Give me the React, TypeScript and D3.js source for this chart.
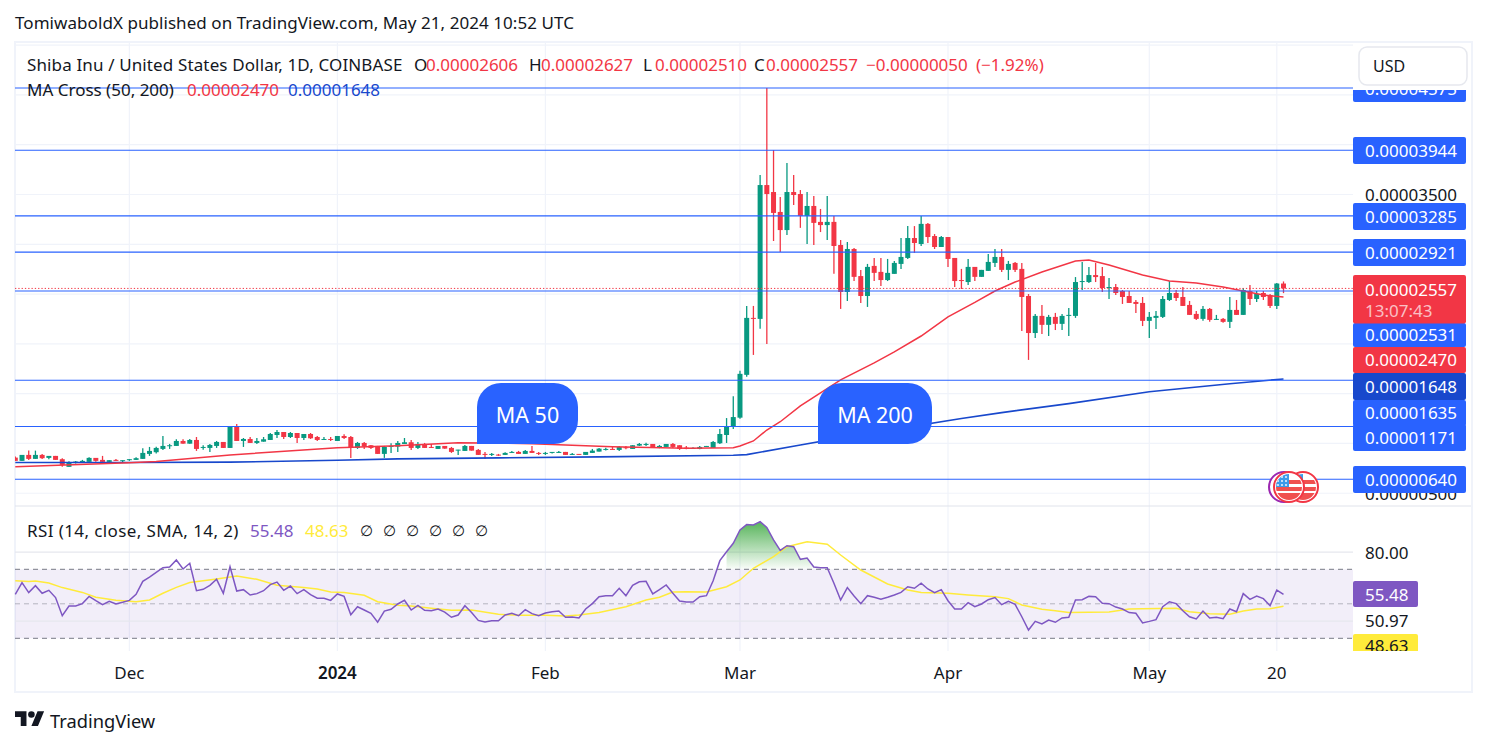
import React from "react";
import * as d3 from "d3";

// All prices in units of 1e-8 USD, one entry per daily candle (Nov 14 2023 .. May 21 2024)
const opens = [858,825,885,845,885,855,875,842,765,805,812,815,855,835,815,835,825,838,835,845,895,912,945,978,975,1025,998,1035,958,955,975,1015,955,1168,1025,1045,1005,1018,1035,1085,1115,1065,1105,1055,1095,1065,1042,1045,1025,1075,1065,955,1005,982,975,895,968,968,995,1012,955,995,965,945,975,955,935,925,975,935,895,885,888,885,908,915,895,925,905,902,908,908,915,885,895,885,905,918,938,945,935,962,945,978,992,995,962,965,995,982,958,948,945,968,955,1002,1085,1165,
1259,1689,2261,2251,3595,3525,3325,3143,3525,3505,3285,3385,3225,3193,3225,2993,2521,2953,2681,2481,2783,2723,2641,2703,2803,2863,3063,3003,3205,3083,2973,3073,2863,2641,2621,2773,2673,2733,2813,2873,2743,2813,2753,2481,2109,2281,2191,2271,2201,2281,2281,2621,2621,2691,2681,2561,2571,2531,2481,2421,2411,2231,2261,2271,2441,2511,2471,2391,2301,2251,2351,2241,2251,2221,2341,2291,2531,2451,2511,2491,2381,2606];
const highs = [868,885,928,928,895,875,875,852,822,825,835,862,855,875,832,845,832,842,862,952,965,968,1075,995,1042,1042,1045,1065,982,995,1025,1015,1168,1195,1055,1065,1055,1065,1105,1135,1115,1115,1105,1095,1105,1075,1065,1065,1075,1092,1075,1015,1015,985,975,975,1002,1025,1055,1035,1015,1005,995,975,975,965,938,985,975,945,915,905,895,912,925,925,935,975,915,915,915,925,915,905,895,915,945,955,958,965,975,975,982,1005,1008,995,985,995,1005,982,975,962,975,975,1025,1145,1255,1475,
1729,2381,2381,3695,4569,3947,3475,3817,3695,3545,3525,3485,3355,3485,3285,3043,3023,2963,2743,2803,2863,2863,2853,2833,3063,3183,3183,3285,3215,3103,3083,3073,2863,2753,2853,2773,2743,2903,2953,2953,2833,2823,2813,2501,2301,2391,2291,2311,2301,2361,2671,2823,2773,2813,2773,2661,2601,2541,2531,2441,2471,2321,2331,2481,2631,2541,2571,2431,2331,2381,2361,2291,2261,2471,2441,2561,2591,2531,2531,2501,2611,2627];
const lows = [825,825,835,845,845,842,835,765,765,798,812,815,815,802,802,825,812,825,835,845,875,898,935,945,975,998,998,925,938,915,955,955,955,1025,965,1005,995,1018,1035,1055,1045,1055,1005,1035,1045,1025,1038,1025,1025,1045,855,945,945,945,895,855,905,915,995,935,945,955,955,945,948,905,885,925,928,885,845,875,875,885,905,895,895,905,885,885,898,905,885,885,888,885,905,918,928,935,925,942,945,975,975,955,952,965,955,935,942,945,942,968,955,995,1005,1145,
1249,1669,1889,2151,1999,3033,2923,3093,3395,3165,3003,2993,3123,3043,2703,2351,2431,2631,2411,2371,2631,2581,2631,2703,2753,2853,2913,2983,3013,2953,2973,2773,2571,2551,2591,2631,2673,2733,2773,2723,2641,2723,2129,1839,2059,2099,2079,2139,2139,2079,2261,2541,2611,2621,2521,2451,2491,2401,2411,2311,2179,2059,2149,2261,2431,2431,2381,2291,2241,2231,2221,2241,2211,2159,2291,2291,2391,2421,2441,2361,2351,2510];
const closes = [825,885,845,885,852,875,835,785,812,818,825,855,825,815,832,825,832,842,852,905,925,955,975,982,1025,998,1035,945,965,985,1015,955,1168,1025,1045,1005,1025,1042,1095,1115,1065,1105,1055,1095,1052,1035,1045,1042,1075,1055,955,1005,968,955,895,965,975,1005,1012,955,995,955,962,975,948,915,938,975,928,885,888,895,882,905,915,895,925,905,902,905,915,915,885,895,888,915,928,948,945,942,965,955,982,995,995,955,975,995,965,945,952,955,965,975,1015,1095,1172,1265,
1699,2261,2251,3595,3505,3315,3143,3525,3495,3285,3385,3215,3193,3225,2983,2521,2953,2673,2481,2773,2713,2641,2713,2813,2873,3063,3013,3205,3073,2973,3073,2853,2631,2631,2773,2673,2743,2823,2873,2743,2803,2743,2471,2109,2281,2191,2271,2201,2281,2291,2621,2631,2691,2671,2561,2571,2511,2471,2411,2401,2231,2271,2281,2451,2511,2461,2381,2291,2251,2351,2241,2251,2221,2341,2291,2541,2451,2501,2471,2381,2606,2557];

const ma50Days = [0,17,21,32,48,57,66,77,89,100,107,108,110,112,114,117,123,128,131,135,139,143,146,149,153,158,160,163,168,172,176,180,183,186,189];
const ma50Values = [765,805,818,885,958,978,1008,998,968,952,958,975,1025,1135,1218,1377,1639,1809,1919,2079,2271,2416,2531,2621,2721,2833,2843,2793,2691,2631,2611,2571,2531,2491,2470];
const ma200Days = [0,17,32,48,57,72,87,107,109,117,123,141,147,157,169,181,189];
const ma200Values = [808,808,812,832,845,855,865,882,888,985,1056,1250,1310,1400,1520,1600,1648];

const rsiValues = [55.5,62.25,56.5,60.5,56.1,57.8,53.6,43.1,48.7,48.7,50.1,54.3,51.8,49.5,51.4,49.9,50.9,52.0,55.5,63.0,65.5,68.2,70.9,71.3,75.4,70.2,73.5,57.6,58.4,60.7,64.2,56.1,71.5,57.4,58.2,55.1,55.9,57.6,61.1,62.6,57.8,60.3,55.9,58.2,55.3,53.2,53.2,52.0,55.7,54.3,43.7,48.3,46.4,44.5,39.3,45.8,46.8,49.9,52.0,46.4,49.1,46.2,46.0,47.0,45.2,42.2,43.5,48.9,45.0,40.4,39.5,40.2,40.2,
43.5,44.5,43.1,46.6,44.3,43.1,44.7,45.4,45.8,42.2,42.3,41.8,47.0,50.1,54.1,54.7,54.7,59.0,54.7,60.7,62.8,63.0,55.7,58.2,60.9,56.1,51.6,51.0,51.0,54.1,54.7,63.4,75.0,80.2,85.1,92.8,95.9,95.7,97.6,94.3,87.0,81.0,83.7,83.1,75.8,76.5,71.3,70.9,70.9,61.9,52.2,59.4,54.5,50.1,54.7,53.8,52.6,53.8,55.1,56.6,59.9,59.0,61.9,
58.6,56.5,58.2,51.8,47.0,47.0,50.7,48.3,49.9,52.4,53.6,49.5,51.4,49.7,42.5,34.8,39.8,38.3,40.6,39.3,41.8,42.2,52.2,52.4,54.3,54.1,50.3,50.1,48.1,47.0,44.9,44.5,38.9,39.8,40.8,48.3,51.2,50.1,46.0,42.5,41.2,45.8,41.8,42.2,41.4,47.0,45.4,55.9,52.6,54.5,53.0,48.9,58.0,55.48];
const rsiMaDays = [0,2,3,5,7,10,12,14,15,18,20,22,24,26,30,33,36,39,43,45,47,49,52,54,57,59,62,65,68,72,75,79,82,84,87,91,94,96,98,100,103,106,108,110,113,115,118,121,123,126,130,133,135,139,142,146,148,150,153,155,157,163,166,168,173,175,178,181,183,185,187,189];
const rsiMaValues = [63.4,63.0,63.2,62.1,59.4,56.6,53.8,52.6,52.0,51.2,52.2,56.1,59.5,62.3,64.4,66.1,64.2,60.7,59.5,58.6,56.8,56.5,54.9,51.2,49.1,48.7,47.4,46.2,46.4,43.9,43.3,43.3,42.9,43.5,44.9,48.3,52.2,53.8,56.8,57.0,56.8,59.9,63.8,70.6,77.3,83.1,86.0,84.5,78.3,69.6,61.5,58.0,56.5,56.1,55.1,54.1,53.0,49.3,46.8,46.0,44.9,45.3,47.0,47.2,47.4,45.4,44.3,43.9,45.8,47.0,47.2,48.63];

const timeTickDays = [17,48,79,108,139,169,188];
const timeTickLabels = ["Dec","2024","Feb","Mar","Apr","May","20"];
const gridPrices = [5000,4500,4000,3500,3000,2500,2000,1500,1000,500];
const axisPrices = [3500,3000,500];
const axisPriceLabels = ["0.00003500","0.00003000","0.00000500"];
const levelPrices = [4569,3944,3285,2921,2531,1635,1171,640];

const tagLabels = ["0.00004575","0.00003944","0.00003285","0.00002921","0.00002531","0.00002470","0.00001648","0.00001635","0.00001171","0.00000640"];
const tagTops = [75,137,203,239,323,347,373,400,424,466];
const tagBottoms = [102,164,230,266,347,373,400,426,451,493];
const tagColors = ["#2962FF","#2962FF","#2962FF","#2962FF","#2962FF","#F23645","#1848CC","#2962FF","#2962FF","#2962FF"];

const legendKeys = ["O", "H", "L", "C"];
const legendKeyX = [414, 529, 643, 754];
const legendValues = ["0.00002606", "0.00002627", "0.00002510", "0.00002557"];
const legendValueX = [426, 541, 655, 766];
const nullMarkX = [360, 383, 406, 429, 452, 475];

const FONT = "'Noto Sans', sans-serif";
const DARK = "#131722";
const RED = "#F23645";
const GREEN = "#089981";
const BLUE = "#2962FF";
const PURPLE = "#7E57C2";
const YELLOW = "#FFEB3B";
const GRID = "#f0f3fa";

const paneLeft = 15;
const paneRight = 1353;

const x = d3.scaleLinear().domain([0, 189]).range([15.3, 1283.5]);
const y = d3.scaleLinear().domain([3944, 640]).range([150.3, 479.3]);
const yR = d3.scaleLinear().domain([70, 30]).range([569.3, 638.3]);

const ma50Path = d3.line<number>().x((d) => x(d)).y((_, i) => y(ma50Values[i]))(ma50Days) ?? "";
const ma200Path = d3.line<number>().x((d) => x(d)).y((_, i) => y(ma200Values[i]))(ma200Days) ?? "";
const rsiPath = d3.line<number>().x((_, i) => x(i)).y((d) => yR(d))(rsiValues) ?? "";
const rsiMaPath = d3.line<number>().x((d) => x(d)).y((_, i) => yR(rsiMaValues[i]))(rsiMaDays) ?? "";
const fillStart = 106;
const rsiAreaPath =
  d3.area<number>().x((_, i) => x(i + fillStart)).y0(yR(70)).y1((d) => yR(d))(rsiValues.slice(fillStart, 127)) ?? "";

function Bubble({ left, right, label }: { left: number; right: number; label: string }) {
  const top = 383;
  const bottom = 444;
  const r = 24;
  const d = `M${left} ${bottom} V${top + r} A${r} ${r} 0 0 1 ${left + r} ${top} H${right - r} A${r} ${r} 0 0 1 ${right} ${top + r} V${bottom - r} A${r} ${r} 0 0 1 ${right - r} ${bottom} Z`;
  return (
    <g>
      <path d={d} fill={BLUE} />
      <text x={(left + right) / 2} y={414} fill="#fff" fontSize={21.5} textAnchor="middle" dominantBaseline="central">
        {label}
      </text>
    </g>
  );
}

const flagDotsX = [-11, -7, -3];
const flagDotsY = [-10, -6, -2];

function Flag({ cx, ring, id }: { cx: number; ring: string; id: string }) {
  const cy = 487;
  return (
    <g>
      <clipPath id={id}>
        <circle cx={cx} cy={cy} r={13} />
      </clipPath>
      <circle cx={cx} cy={cy} r={15} fill="#fff" stroke={ring} strokeWidth={2} />
      <g clipPath={`url(#${id})`}>
        <rect x={cx - 14} y={cy - 14} width={28} height={28} fill="#fff" />
        <rect x={cx - 14} y={cy - 7} width={28} height={4} fill="#F0504F" />
        <rect x={cx - 14} y={cy} width={28} height={4} fill="#F0504F" />
        <rect x={cx - 14} y={cy + 6} width={28} height={8} fill="#F0504F" />
        <rect x={cx - 14} y={cy - 14} width={14} height={14} fill="#3D9BE9" />
        {flagDotsX.map((dx) =>
          flagDotsY.map((dy) => <circle key={`${dx}${dy}`} cx={cx + dx} cy={cy + dy} r={0.9} fill="#fff" />)
        )}
      </g>
    </g>
  );
}

export default function App() {
  return (
    <svg
      width={1488}
      height={746}
      viewBox="0 0 1488 746"
      style={{ position: "absolute", left: 0, top: 0, background: "#fff", fontFamily: FONT }}
    >
      <defs>
        <linearGradient id="rsiGreen" gradientUnits="userSpaceOnUse" x1="0" y1={yR(98)} x2="0" y2={yR(70)}>
          <stop offset="0" stopColor="#4caf50" stopOpacity={0.95} />
          <stop offset="1" stopColor="#4caf50" stopOpacity={0.03} />
        </linearGradient>
        <clipPath id="priceClip">
          <rect x={paneLeft} y={43} width={paneRight - paneLeft} height={463} />
        </clipPath>
        <clipPath id="aboveSeventy">
          <rect x={paneLeft} y={507} width={paneRight - paneLeft} height={yR(70) - 507} />
        </clipPath>
        <clipPath id="axisClip">
          <rect x={paneRight} y={90} width={120} height={416} />
        </clipPath>
        <clipPath id="rsiAxisClip">
          <rect x={paneRight} y={507} width={120} height={144} />
        </clipPath>
      </defs>

      <text x={15} y={22.5} fill={DARK} fontSize={17} letterSpacing={0.06} dominantBaseline="central">
        TomiwaboldX published on TradingView.com, May 21, 2024 10:52 UTC
      </text>

      <rect x={15} y={42} width={1457} height={650} fill="#fff" stroke={GRID} strokeWidth={2} />

      {timeTickDays.map((d) => (
        <line key={d} x1={x(d)} x2={x(d)} y1={43} y2={651} stroke={GRID} strokeWidth={1.2} />
      ))}
      {gridPrices.map((p) => (
        <line key={p} x1={paneLeft} x2={paneRight} y1={y(p)} y2={y(p)} stroke={GRID} strokeWidth={1.2} />
      ))}
      <line x1={paneLeft} x2={1471} y1={506} y2={506} stroke="#e0e3eb" strokeWidth={1} />

      <g clipPath="url(#priceClip)">
        {opens.map((o, i) => {
          const c = closes[i];
          const col = c >= o ? GREEN : RED;
          const top = y(Math.max(o, c));
          const h = Math.max(1, Math.abs(y(o) - y(c)));
          return (
            <g key={i}>
              <line x1={x(i)} x2={x(i)} y1={y(highs[i])} y2={y(lows[i])} stroke={col} strokeWidth={1.3} />
              <rect x={x(i) - 2.5} y={top} width={5} height={h} fill={col} />
            </g>
          );
        })}
        <path d={ma200Path} fill="none" stroke="#1848CC" strokeWidth={1.6} />
        <path d={ma50Path} fill="none" stroke={RED} strokeWidth={1.5} />
        {levelPrices.map((p) => (
          <line key={p} x1={paneLeft} x2={paneRight} y1={y(p)} y2={y(p)} stroke={BLUE} strokeWidth={1.1} />
        ))}
        <line x1={paneLeft} x2={paneRight} y1={y(2557)} y2={y(2557)} stroke={RED} strokeWidth={1} strokeDasharray="1.3 2" />
      </g>

      <Bubble left={477} right={578} label="MA 50" />
      <Bubble left={818} right={932} label="MA 200" />

      <Flag cx={1303} ring={RED} id="flagA" />
      <circle cx={1284} cy={487} r={15} fill="#fff" stroke="#9C27B0" strokeWidth={2} />
      <Flag cx={1289} ring={RED} id="flagB" />

      {/* price axis */}
      <g clipPath="url(#axisClip)" fontSize={17}>
        {axisPrices.map((p, i) => (
          <text key={p} x={1365} y={y(p)} fill={DARK} dominantBaseline="central">
            {axisPriceLabels[i]}
          </text>
        ))}
        {tagLabels.map((t, i) => (
          <g key={t}>
            <rect x={paneRight} y={tagTops[i]} width={113} height={tagBottoms[i] - tagTops[i]} fill={tagColors[i]} rx={2} />
            <text x={1365} y={(tagTops[i] + tagBottoms[i]) / 2 - 0.5} fill="#fff" dominantBaseline="central">
              {t}
            </text>
          </g>
        ))}
        <rect x={paneRight} y={275} width={113} height={48.5} fill={RED} rx={2} />
        <text x={1365} y={289} fill="#fff" dominantBaseline="central">
          0.00002557
        </text>
        <text x={1365} y={310} fill="#fff" fillOpacity={0.7} dominantBaseline="central">
          13:07:43
        </text>
      </g>

      {/* USD button */}
      <rect x={1359} y={47} width={108} height={38} rx={8} fill="#fff" stroke="#e6e8ee" strokeWidth={1.5} />
      <text x={1373} y={66} fill={DARK} fontSize={16} dominantBaseline="central">
        USD
      </text>

      {/* legend */}
      <g fontSize={17}>
        <text x={27} y={64} fill={DARK} letterSpacing={0.13} dominantBaseline="central">
          Shiba Inu / United States Dollar, 1D, COINBASE
        </text>
        {legendKeys.map((k, i) => (
          <g key={k}>
            <text x={legendKeyX[i]} y={64} fill={DARK} dominantBaseline="central">
              {k}
            </text>
            <text x={legendValueX[i]} y={64} fill={RED} dominantBaseline="central">
              {legendValues[i]}
            </text>
          </g>
        ))}
        <text x={866} y={64} fill={RED} dominantBaseline="central">
          −0.00000050
        </text>
        <text x={976} y={64} fill={RED} dominantBaseline="central">
          (−1.92%)
        </text>
        <text x={27} y={89} fill={DARK} dominantBaseline="central">
          MA Cross (50, 200)
        </text>
        <text x={187} y={89} fill={RED} dominantBaseline="central">
          0.00002470
        </text>
        <text x={288} y={89} fill="#1848CC" dominantBaseline="central">
          0.00001648
        </text>
        <text x={27} y={530} fill={DARK} letterSpacing={0.4} dominantBaseline="central">
          RSI (14, close, SMA, 14, 2)
        </text>
        <text x={250} y={530} fill={PURPLE} dominantBaseline="central">
          55.48
        </text>
        <text x={305} y={530} fill={YELLOW} dominantBaseline="central">
          48.63
        </text>
        {nullMarkX.map((lx) => (
          <text key={lx} x={lx} y={530} fill={DARK} fontSize={15} dominantBaseline="central">
            ∅
          </text>
        ))}
      </g>

      {/* RSI pane */}
      <rect x={paneLeft} y={yR(70)} width={paneRight - paneLeft} height={yR(30) - yR(70)} fill={PURPLE} fillOpacity={0.1} />
      {[80, 40].map((v) => (
        <line key={v} x1={paneLeft} x2={paneRight} y1={yR(v)} y2={yR(v)} stroke="#e6e7ee" strokeWidth={1.2} />
      ))}
      <g clipPath="url(#aboveSeventy)">
        <path d={rsiAreaPath} fill="url(#rsiGreen)" />
      </g>
      {[70, 30].map((v) => (
        <line key={v} x1={paneLeft} x2={paneRight} y1={yR(v)} y2={yR(v)} stroke="#787B86" strokeWidth={1} strokeDasharray="5 4" />
      ))}
      <line x1={paneLeft} x2={paneRight} y1={yR(50)} y2={yR(50)} stroke="#787B86" strokeOpacity={0.5} strokeWidth={1} strokeDasharray="5 4" />
      <path d={rsiMaPath} fill="none" stroke={YELLOW} strokeWidth={1.5} />
      <path d={rsiPath} fill="none" stroke={PURPLE} strokeWidth={1.5} />

      <g clipPath="url(#rsiAxisClip)" fontSize={17}>
        <text x={1365} y={552} fill={DARK} dominantBaseline="central">
          80.00
        </text>
        <rect x={paneRight} y={581} width={65} height={26} fill={PURPLE} rx={2} />
        <text x={1365} y={594} fill="#fff" dominantBaseline="central">
          55.48
        </text>
        <text x={1365} y={620} fill={DARK} dominantBaseline="central">
          50.97
        </text>
        <rect x={paneRight} y={634} width={65} height={26} fill={YELLOW} rx={2} />
        <text x={1365} y={645.5} fill={DARK} dominantBaseline="central">
          48.63
        </text>
      </g>

      {/* time axis */}
      <g fontSize={17}>
        {timeTickDays.map((d, i) => (
          <text
            key={d}
            x={x(d)}
            y={672}
            fill={DARK}
            textAnchor="middle"
            dominantBaseline="central"
            fontWeight={timeTickLabels[i] === "2024" ? 600 : 400}
          >
            {timeTickLabels[i]}
          </text>
        ))}
      </g>

      {/* footer */}
      <g transform="translate(15 708) scale(0.82)" fill={DARK}>
        <path d="M14 22H7V11H0V4h14v18ZM28 22h-8l7.5-18h8L28 22Z" />
        <circle cx={20} cy={8} r={4} />
      </g>
      <text x={50} y={720} fill={DARK} fontSize={18.3} dominantBaseline="central">
        TradingView
      </text>
    </svg>
  );
}
